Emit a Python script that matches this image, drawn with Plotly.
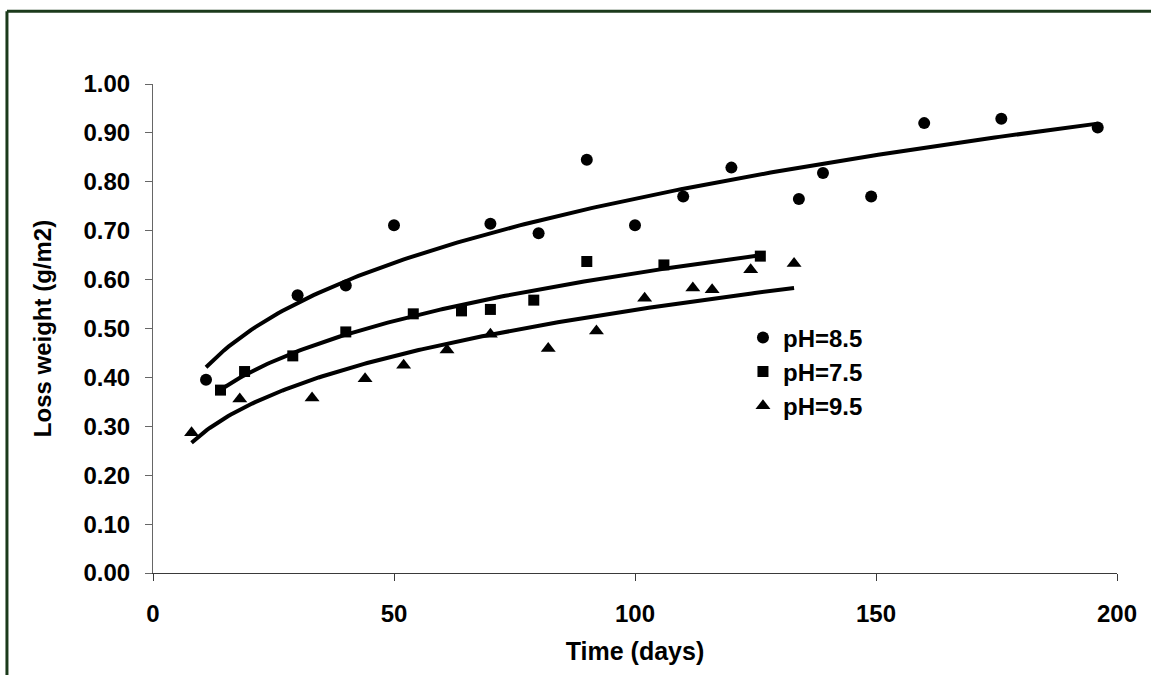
import numpy as np
import plotly.graph_objects as go

# Weight loss measurements (g/m2) over time (days) for three pH levels
ph85_days = [11, 30, 40, 50, 70, 80, 90, 100, 110, 120, 134, 139, 149, 160, 176, 196]
ph85_loss = [0.395, 0.568, 0.588, 0.711, 0.714, 0.695, 0.845, 0.711, 0.770, 0.829,
             0.765, 0.818, 0.770, 0.920, 0.929, 0.911]

ph75_days = [14, 19, 29, 40, 54, 64, 70, 79, 90, 106, 126]
ph75_loss = [0.374, 0.412, 0.444, 0.493, 0.530, 0.536, 0.539, 0.558, 0.637, 0.630, 0.648]

ph95_days = [8, 18, 33, 44, 52, 61, 70, 82, 92, 102, 112, 116, 124, 133]
ph95_loss = [0.287, 0.356, 0.358, 0.397, 0.425, 0.456, 0.488, 0.459, 0.495, 0.562,
             0.583, 0.579, 0.620, 0.633]

x_ticks = [0, 50, 100, 150, 200]
y_ticks = [0.0, 0.1, 0.2, 0.3, 0.4, 0.5, 0.6, 0.7, 0.8, 0.9, 1.0]

series = [
    ("pH=8.5", ph85_days, ph85_loss, "circle", 12),
    ("pH=7.5", ph75_days, ph75_loss, "square", 11),
    ("pH=9.5", ph95_days, ph95_loss, "triangle-up", 13),
]

FONT = "Liberation Sans, Arial, sans-serif"

fig = go.Figure()

# Power-law trendlines y = a * x^b fitted to each series
for name, xs, ys, sym, size in series:
    xs_a = np.array(xs, dtype=float)
    ys_a = np.array(ys, dtype=float)
    b, log_a = np.polyfit(np.log(xs_a), np.log(ys_a), 1)
    xf = np.linspace(xs_a.min(), xs_a.max(), 200)
    yf = np.exp(log_a) * xf ** b
    fig.add_trace(go.Scatter(x=xf, y=yf, mode="lines",
                             line=dict(color="black", width=4),
                             showlegend=False, hoverinfo="skip"))

for name, xs, ys, sym, size in series:
    fig.add_trace(go.Scatter(x=xs, y=ys, mode="markers", name=name,
                             marker=dict(symbol=sym, size=size, color="black",
                                         line=dict(width=0)),
                             cliponaxis=False))

axis_line = "#3a3a3a"

fig.update_layout(
    width=1151, height=675,
    margin=dict(l=153, r=34, t=84, b=102),
    paper_bgcolor="white", plot_bgcolor="white",
    font=dict(family=FONT, size=24, color="black"),
    showlegend=True,
    legend=dict(x=0.612, y=0.527, xanchor="left", yanchor="top",
                bgcolor="rgba(255,255,255,0)", borderwidth=0,
                font=dict(family=FONT, size=24, color="black", weight="bold"),
                itemwidth=30, tracegroupgap=0),
    xaxis=dict(range=[0, 200], tickvals=x_ticks, ticktext=[str(v) for v in x_ticks],
               showgrid=False, zeroline=False, showline=True, linecolor=axis_line,
               linewidth=1, ticks="outside", ticklen=7, tickcolor=axis_line,
               ticklabelstandoff=12,
               tickfont=dict(family=FONT, size=24, color="black", weight="bold"),
               title=dict(text="<b>Time (days)</b>", standoff=16,
                          font=dict(family=FONT, size=25, color="black"))),
    yaxis=dict(range=[0, 1.0], tickvals=y_ticks, ticktext=[f"{v:.2f}" for v in y_ticks],
               showgrid=False, zeroline=False, showline=True, linecolor="#666666",
               linewidth=1, ticks="outside", ticklen=7, tickcolor="#666666",
               ticklabelstandoff=10,
               tickfont=dict(family=FONT, size=24, color="black", weight="bold"),
               title=dict(text="<b>Loss weight (g/m2)</b>", standoff=25,
                          font=dict(family=FONT, size=24, color="black"))),
    shapes=[
        # outer frame (top and left edges fall inside the page)
        dict(type="line", xref="paper", yref="paper", x0=-0.1515, x1=1.2,
             y0=1.149, y1=1.149, line=dict(color="#1b3a1b", width=3)),
        dict(type="line", xref="paper", yref="paper", x0=-0.1515, x1=-0.1515,
             y0=-0.4, y1=1.149, line=dict(color="#1b3a1b", width=3)),
    ],
)

fig.write_html("out.html")
